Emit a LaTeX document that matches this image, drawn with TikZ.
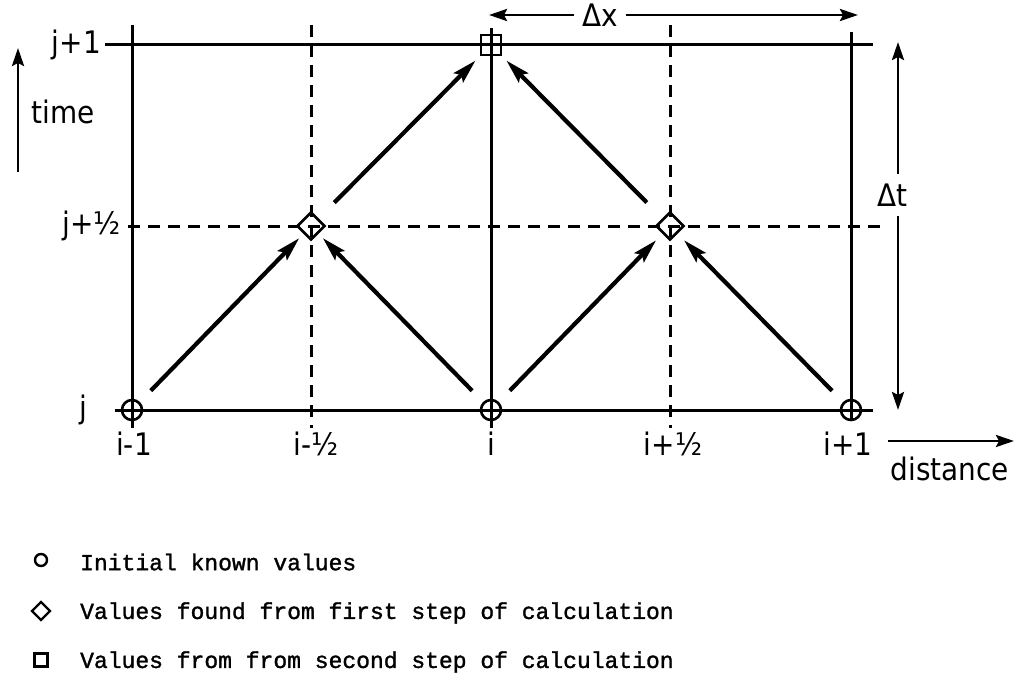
\documentclass[tikz,border=0pt]{standalone}
\usepackage{fontspec}
\newfontfamily\labfont{DejaVu Sans Condensed}
\newfontfamily\legfont{Liberation Mono}[FakeBold=1.4]
\usetikzlibrary{arrows.meta,shapes.geometric}
\begin{document}
\begin{tikzpicture}[x=1pt,y=-1pt,
  gridline/.style={line width=3pt},
  dgrid/.style={line width=3pt, dash pattern=on 12pt off 8pt},
  lab/.style={font=\labfont\fontsize{31}{33}\selectfont, inner sep=0pt},
  leg/.style={font=\legfont\fontsize{23}{26}\selectfont, inner sep=0pt, anchor=west},
  calc/.style={line width=4.2pt, -{Stealth[length=24pt,width=13pt,inset=4pt]}},
  axis/.style={line width=2.8pt, -{Stealth[length=18pt,width=12pt,inset=3pt]}},
  known/.style={circle, draw, line width=2.6pt, minimum size=20pt, inner sep=0pt},
  half/.style={diamond, draw, line width=2.6pt, minimum size=28pt, inner sep=0pt},
  full/.style={rectangle, draw, line width=2.6pt, minimum size=20pt, inner sep=0pt}]
\useasboundingbox (0,0) rectangle (1019,679);

% grid lines
\draw[gridline] (105,45) -- (873,45);
\draw[gridline] (115,410) -- (873,410);
\draw[dgrid] (128,226) -- (880,226);
\draw[gridline] (132,25) -- (132,428);
\draw[dgrid] (311,25) -- (311,428);
\draw[gridline] (491,28) -- (491,428);
\draw[dgrid] (670,25) -- (670,428);
\draw[gridline] (851,32) -- (851,420);

% grid points
\node[known] (a) at (132,410) {};
\node[known] (b) at (491,410) {};
\node[known] (c) at (851,410) {};
\node[half] (d) at (311,226) {};
\node[half] (e) at (670,226) {};
\node[full] (f) at (491,45) {};

% calculation arrows
\draw[calc, shorten <=27pt, shorten >=17pt] (a.center) -- (d.center);
\draw[calc, shorten <=27pt, shorten >=17pt] (b.center) -- (d.center);
\draw[calc, shorten <=27pt, shorten >=20pt] (b.center) -- (e.center);
\draw[calc, shorten <=27pt, shorten >=20pt] (c.center) -- (e.center);
\draw[calc, shorten <=33pt, shorten >=22pt] (d.center) -- (f.center);
\draw[calc, shorten <=33pt, shorten >=22pt] (e.center) -- (f.center);

% row labels
\node[lab, anchor=east] (lj1) at (101,45) {j+1};
\node[lab, anchor=east] (ljh) at (121,226) {j+½};
\node[lab] (lj) at (83,410) {j};

% column labels
\node[lab] (li1) at (134,444) {i-1};
\node[lab] (lih1) at (316,444) {i-½};
\node[lab] (li) at (491,444) {i};
\node[lab] (lih2) at (673,444) {i+½};
\node[lab] (li3) at (848,444) {i+1};

% time axis
\coordinate (tb) at (18,172);
\coordinate (tt) at (18,48);
\draw[axis] (tb) -- (tt);
\node[lab] (time) at (63,112) {time};

% distance axis
\coordinate (db) at (888,441);
\coordinate (de) at (1014,441);
\draw[axis] (db) -- (de);
\node[lab] (dist) at (950,469) {distance};

% Delta x
\node[lab] (dx) at (600,15) {Δx};
\coordinate (dxl) at (489,15);
\coordinate (dxr) at (858,15);
\draw[axis] (dx.west) ++(-8,0) -- (dxl);
\draw[axis] (dx.east) ++(8,0) -- (dxr);

% Delta t
\node[lab] (dt) at (892,195) {Δt};
\coordinate (dtt) at (898,42);
\coordinate (dtb) at (898,410);
\draw[axis] (dt.north) ++(6,-10) -- (dtt);
\draw[axis] (dt.south) ++(6,10) -- (dtb);

% legend
\node[circle, draw, line width=2.4pt, minimum size=12pt, inner sep=0pt] (s1) at (41,560) {};
\node[leg] (t1) at (80,562) {Initial known values};
\node[diamond, draw, line width=2.4pt, minimum size=19pt, inner sep=0pt] (s2) at (41,611) {};
\node[leg] (t2) at (80,613) {Values found from first step of calculation};
\node[rectangle, draw, line width=2.4pt, minimum size=13pt, inner sep=0pt] (s3) at (41,660) {};
\node[leg] (t3) at (80,662) {Values from from second step of calculation};
\end{tikzpicture}
\end{document}
